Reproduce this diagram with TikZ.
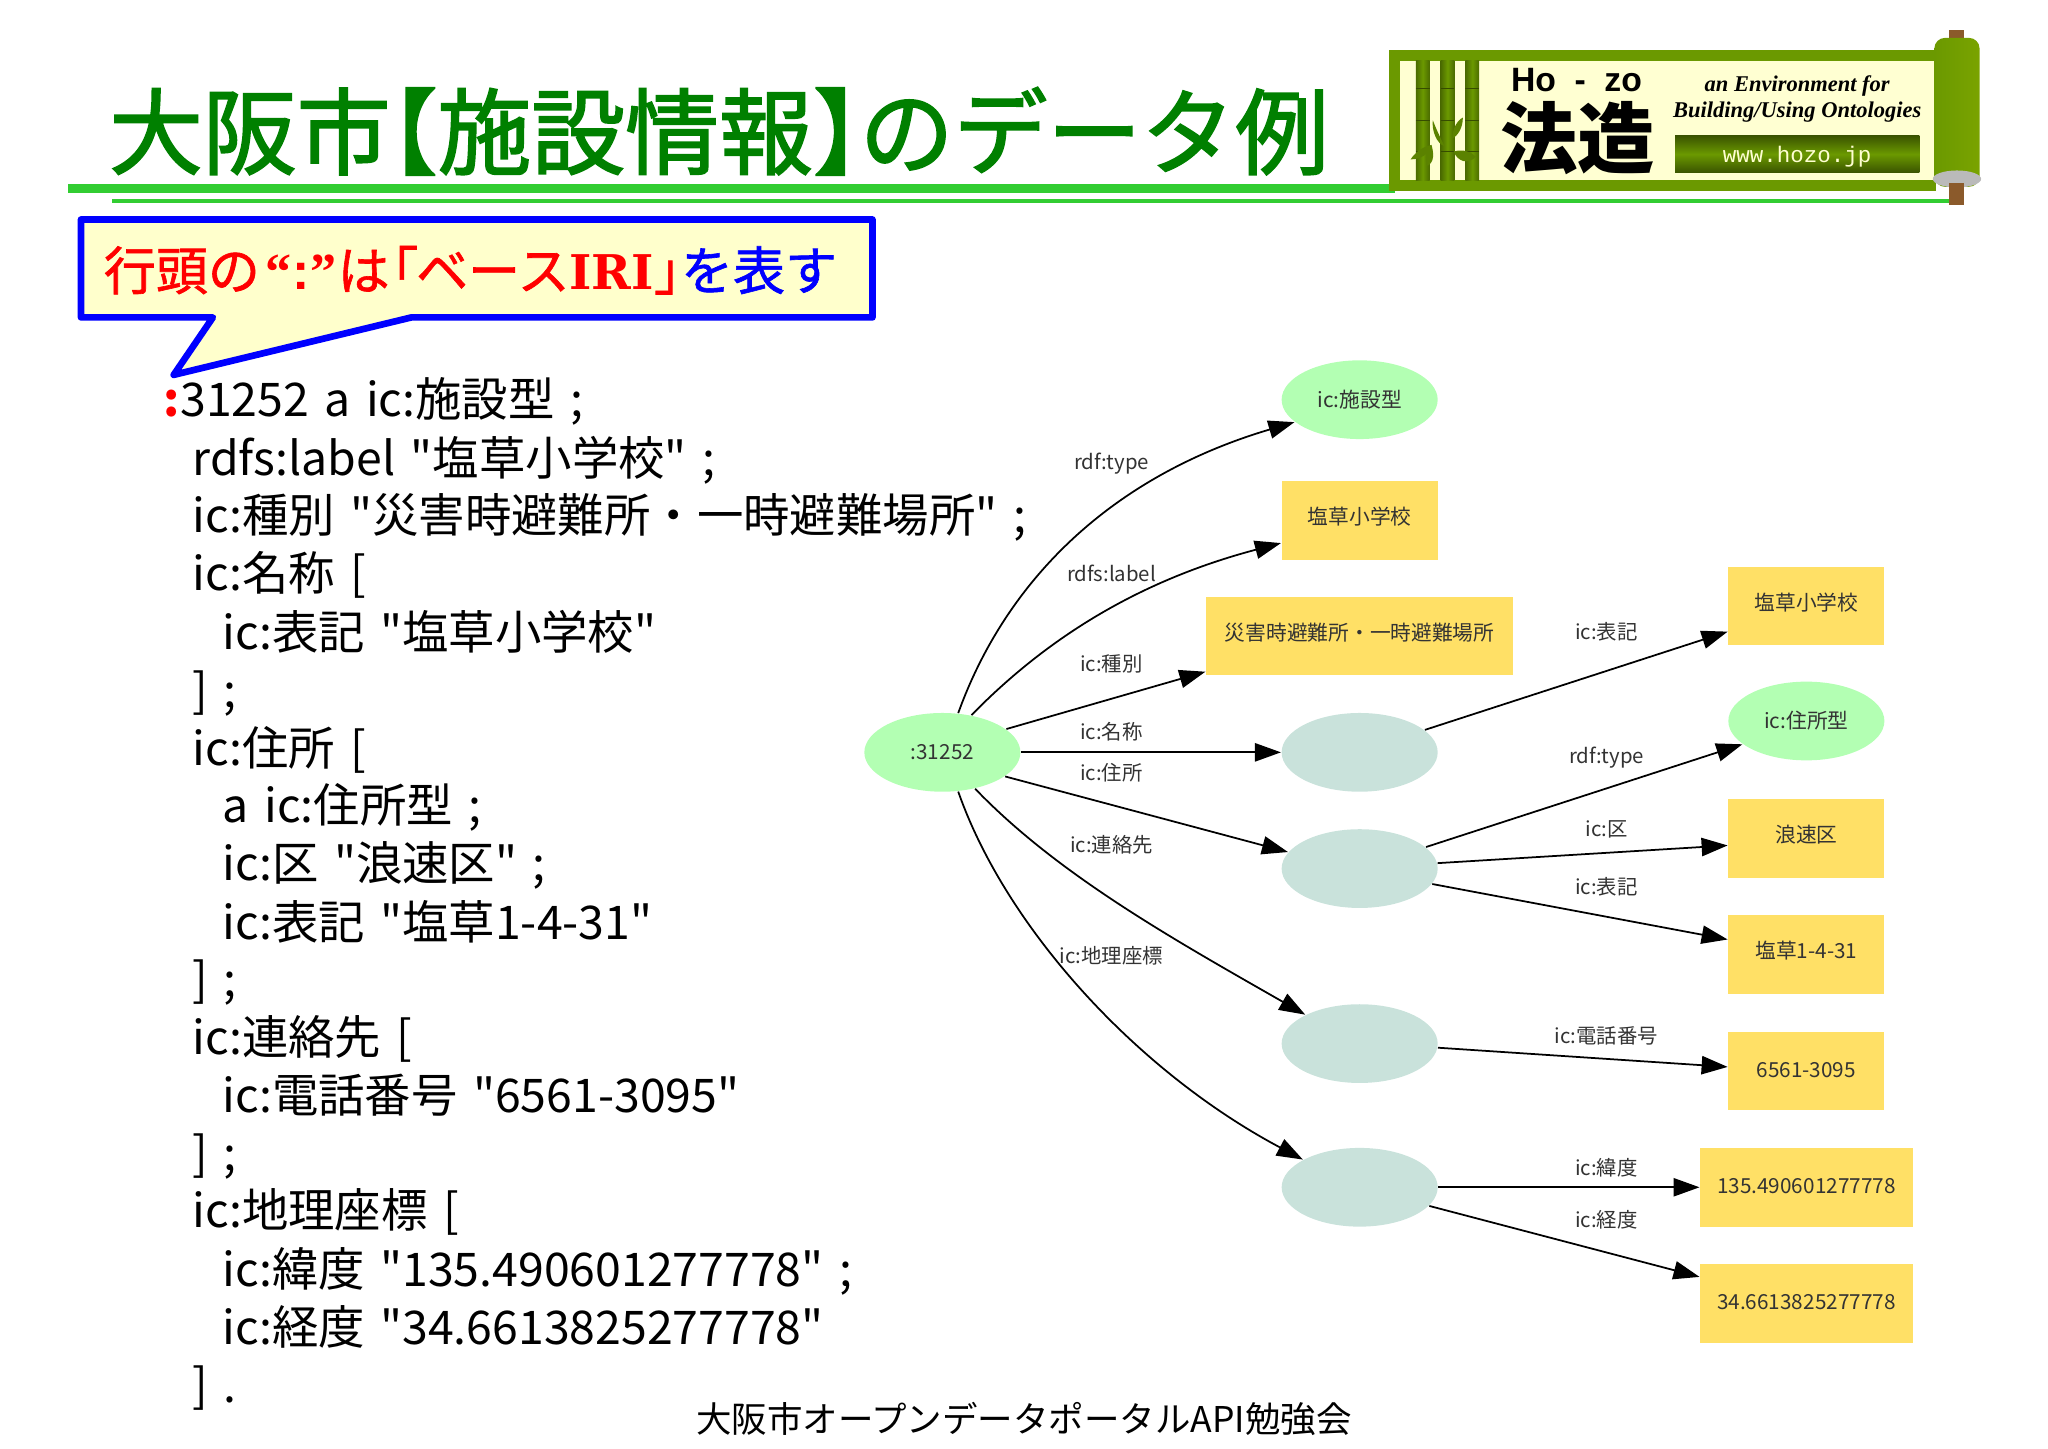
\documentclass[tikz,border=0pt]{standalone}
\usepackage{fontspec}
\setmainfont{Noto Sans CJK JP}
\newfontfamily\codefont[WordSpace=1.5]{Noto Sans CJK JP}
\newfontfamily\headfont[FakeBold=1.8]{Noto Sans CJK JP}
\newfontfamily\noticefont[FakeBold=1.2]{Noto Sans CJK JP}
\newfontfamily\serifbold{Liberation Serif}
\newfontfamily\slabbold{DejaVu Serif}
\newfontfamily\sansbold{Liberation Sans}
\newfontfamily\monofont{Liberation Mono}
\usetikzlibrary{arrows.meta}
\usetikzlibrary{positioning}
\usetikzlibrary{shapes.geometric}
\definecolor{titlegreen}{RGB}{0,128,0}
\definecolor{rulegreen}{RGB}{50,205,50}
\definecolor{scrollgreen}{RGB}{107,153,0}
\definecolor{scrollcream}{RGB}{255,255,210}
\definecolor{calloutfill}{RGB}{255,255,204}
\definecolor{classgreen}{RGB}{179,255,179}
\definecolor{blankgreen}{RGB}{201,226,219}
\definecolor{literalyellow}{RGB}{255,224,102}
\definecolor{pegbrown}{RGB}{139,90,43}
\tikzset{
  codeline/.style={anchor=base west, inner sep=0, font=\fontsize{13.2}{16}\codefont},
  classnode/.style={ellipse, fill=classgreen, inner sep=0, minimum width=44.4pt, minimum height=22.4pt, font=\fontsize{5.9}{7}\selectfont, text=black!80},
  blanknode/.style={ellipse, fill=blankgreen, inner sep=0, minimum width=44.4pt, minimum height=22.4pt},
  literalnode/.style={rectangle, fill=literalyellow, inner sep=0, minimum width=44.4pt, minimum height=22.4pt, text height=5pt, text depth=2.7pt, font=\fontsize{5.9}{7}\selectfont, text=black!80},
  numbernode/.style={literalnode, text depth=1.5pt},
  edgelabel/.style={inner sep=0, font=\fontsize{5.8}{7}\selectfont, text=black!80},
  rdfedge/.style={line width=0.5pt, -{Triangle[length=7.4pt,width=5.2pt]}},
}
\begin{document}
\begin{tikzpicture}[x=0.013061cm, y=-0.013061cm]
  \useasboundingbox (0, 0) rectangle (1568, 1109);

  % title and rules
  \node [anchor=base west, inner sep=0, text=titlegreen, font=\fontsize{26.7}{30}\headfont] (title) at (83, 128) {大阪市\hspace{-0.5em}【施設情報】\hspace{-0.5em}のデータ例};
  \fill [rulegreen] (52, 141) rectangle (1068, 148);
  \fill [rulegreen] (86, 152.5) rectangle (1493, 155.5);

  % scroll logo
  \fill [scrollgreen] (1063.5, 38) rectangle (1482, 146);
  \fill [scrollcream] (1071.5, 46.5) rectangle (1482, 138);
  \foreach \x in {1084, 1103, 1122} {
    \shade [left color=scrollgreen!70!black, right color=scrollgreen!70!black, middle color=scrollgreen] (\x, 46.5) rectangle +(10.5, 91.5);
    \foreach \y in {68, 92, 116}
      \draw [scrollgreen!50!black, line width=0.3pt] (\x, \y) -- +(10.5, 0);
  }
  \fill [scrollgreen!85!black] (1097, 92) .. controls (1100, 100) and (1104, 108) .. (1106, 112) .. controls (1100, 110) and (1096, 100) .. cycle;
  \fill [scrollgreen!85!black] (1120, 90) .. controls (1120, 98) and (1116, 104) .. (1112, 106) .. controls (1112, 98) and (1116, 92) .. cycle;
  \fill [scrollgreen!85!black] (1096, 111) .. controls (1094, 118) and (1088, 122) .. (1080, 122) .. controls (1084, 116) and (1090, 112) .. cycle;
  \fill [scrollgreen!85!black] (1096, 111) .. controls (1098, 118) and (1098, 124) .. (1093, 127) .. controls (1090, 122) and (1092, 114) .. cycle;
  \fill [scrollgreen!85!black] (1113, 116) .. controls (1120, 114) and (1126, 116) .. (1130, 120) .. controls (1124, 126) and (1116, 124) .. cycle;
  \node [inner sep=0, font=\fontsize{9.6}{11}\sansbold\bfseries] (hozolatin) at (1207, 61) {Ho\hspace{0.55em}-\hspace{0.55em}zo};
  \node [inner sep=0, font=\fontsize{22}{24}\selectfont\bfseries] (hozokanji) at (1208, 106) {法造};
  \node [inner sep=0, font=\fontsize{6.4}{8}\serifbold\bfseries\itshape] (envline) at (1376, 66) {an Environment for};
  \node [inner sep=0, font=\fontsize{6.4}{8}\serifbold\bfseries\itshape] (buildline) at (1376, 85.5) {Building/Using Ontologies};
  \shade [top color=scrollgreen!55!black, bottom color=scrollgreen!55!black, middle color=scrollgreen] (1282.5, 104) rectangle (1469.6, 132);
  \node [inner sep=0, text=scrollcream, font=\fontsize{6.4}{8}\monofont] (hozourl) at (1376, 120) {www.hozo.jp};
  \fill [pegbrown] (1492, 23) rectangle (1504, 32);
  \shade [left color=scrollgreen, right color=scrollgreen!90!yellow, rounded corners=3pt] (1481, 29) rectangle (1515.6, 143);
  \fill [black!27] (1498.3, 137) ellipse (18.5 and 6.5);
  \fill [pegbrown] (1492, 140) rectangle (1504, 157);

  % callout
  \draw [blue, line width=1.9pt, fill=calloutfill, line join=round] (62, 168) -- (668, 168) -- (668, 243) -- (315, 243) -- (133, 287) -- (163, 243) -- (62, 243) -- cycle;
  \node [anchor=base west, inner sep=0, text=red, font=\fontsize{14.8}{18}\noticefont] (callout) at (79, 222) {行頭の{\hspace{0.1em}\serifbold\bfseries“\hspace{0.02em}\sansbold:\hspace{0.02em}\serifbold”}\hspace{0.02em}は\hspace{-0.45em}「\hspace{-0.04em}ベース{\fontsize{13.6}{18}\slabbold\bfseries IRI}」\hspace{-0.48em}\textcolor{blue}{を表す}};

  % turtle text
  \node [codeline] (line1) at (125, 319) {\textcolor{red}{\bfseries:}31252 a ic:施設型 ;};
  \node [codeline] (line2) at (147, 364) {rdfs:label "塩草小学校" ;};
  \node [codeline] (line3) at (147, 408) {ic:種別 "災害時避難所・一時避難場所" ;};
  \node [codeline] (line4) at (147, 452) {ic:名称 [};
  \node [codeline] (line5) at (170, 497) {ic:表記 "塩草小学校"};
  \node [codeline] (line6) at (147, 542) {] ;};
  \node [codeline] (line7) at (147, 586) {ic:住所 [};
  \node [codeline] (line8) at (170, 630) {a ic:住所型 ;};
  \node [codeline] (line9) at (170, 674) {ic:区 "浪速区" ;};
  \node [codeline] (line10) at (170, 719) {ic:表記 "塩草1-4-31"};
  \node [codeline] (line11) at (147, 763) {] ;};
  \node [codeline] (line12) at (147, 807) {ic:連絡先 [};
  \node [codeline] (line13) at (170, 852) {ic:電話番号 "6561-3095"};
  \node [codeline] (line14) at (147, 896) {] ;};
  \node [codeline] (line15) at (147, 940) {ic:地理座標 [};
  \node [codeline] (line16) at (170, 985) {ic:緯度 "135.490601277778" ;};
  \node [codeline] (line17) at (170, 1029) {ic:経度 "34.6613825277778"};
  \node [codeline] (line18) at (147, 1074) {] .};

  \node [inner sep=0, font=\fontsize{10.1}{13}\selectfont] (footer) at (784, 1086) {大阪市オープンデータポータルAPI勉強会};

  % graph nodes
  \node [classnode] (subject) at (721.5, 576) {:31252};
  \node [classnode] (facility) at (1041, 306) {ic:施設型};
  \node [literalnode] (schoollabel) at (1041, 398.5) {塩草小学校};
  \node [literalnode, minimum width=87.4pt] (kind) at (1041, 487) {災害時避難所・一時避難場所};
  \node [blanknode] (blankname) at (1041, 576) {};
  \node [blanknode] (blankaddr) at (1041, 665) {};
  \node [blanknode] (blankcontact) at (1041, 799) {};
  \node [blanknode] (blankgeo) at (1041, 909) {};
  \node [literalnode] (namenote) at (1383, 464) {塩草小学校};
  \node [classnode] (addrtype) at (1383, 552) {ic:住所型};
  \node [literalnode] (ward) at (1383, 642) {浪速区};
  \node [literalnode] (addrnote) at (1383, 731) {塩草1-4-31};
  \node [numbernode] (phone) at (1383, 820) {6561-3095};
  \node [numbernode, minimum width=60.4pt] (lat) at (1383, 909) {135.490601277778};
  \node [numbernode, minimum width=60.4pt] (long) at (1383, 998) {34.6613825277778};

  % graph edges
  \draw [rdfedge] (subject.68) .. controls (770, 445) and (850, 365) .. (facility.199);
  \draw [rdfedge] (subject.52) .. controls (800, 490) and (870, 445) .. (schoollabel.196);
  \draw [rdfedge] (subject.20) -- (kind.193);
  \draw [rdfedge] (subject) -- (blankname);
  \draw [rdfedge] (subject.-21) -- (blankaddr.167);
  \draw [rdfedge] (subject.-48) .. controls (810, 670) and (900, 720) .. (blankcontact.152);
  \draw [rdfedge] (subject.-68) .. controls (770, 710) and (870, 820) .. (blankgeo.154);
  \draw [rdfedge] (blankname.19) -- (namenote.198);
  \draw [rdfedge] (blankaddr.18) -- (addrtype.200);
  \draw [rdfedge] (blankaddr.4) -- (ward.185);
  \draw [rdfedge] (blankaddr.-12) -- (addrnote.169);
  \draw [rdfedge] (blankcontact.-3) -- (phone.177);
  \draw [rdfedge] (blankgeo) -- (lat);
  \draw [rdfedge] (blankgeo.-15) -- (long.166);

  % edge labels
  \node [edgelabel] (lbltype) at (851, 355) {rdf:type};
  \node [edgelabel] (lbllabel) at (851, 439) {rdfs:label};
  \node [edgelabel] (lblkind) at (851, 508) {ic:種別};
  \node [edgelabel] (lblname) at (851, 560) {ic:名称};
  \node [edgelabel] (lbladdr) at (851, 592) {ic:住所};
  \node [edgelabel] (lblcontact) at (851, 647) {ic:連絡先};
  \node [edgelabel] (lblgeo) at (851, 732) {ic:地理座標};
  \node [edgelabel] (lblnote) at (1230, 484) {ic:表記};
  \node [edgelabel] (lbltypetwo) at (1230, 580) {rdf:type};
  \node [edgelabel] (lblward) at (1230, 635) {ic:区};
  \node [edgelabel] (lblnotetwo) at (1230, 679) {ic:表記};
  \node [edgelabel] (lblphone) at (1230, 793) {ic:電話番号};
  \node [edgelabel] (lbllat) at (1230, 894) {ic:緯度};
  \node [edgelabel] (lbllong) at (1230, 934) {ic:経度};
\end{tikzpicture}
\end{document}
